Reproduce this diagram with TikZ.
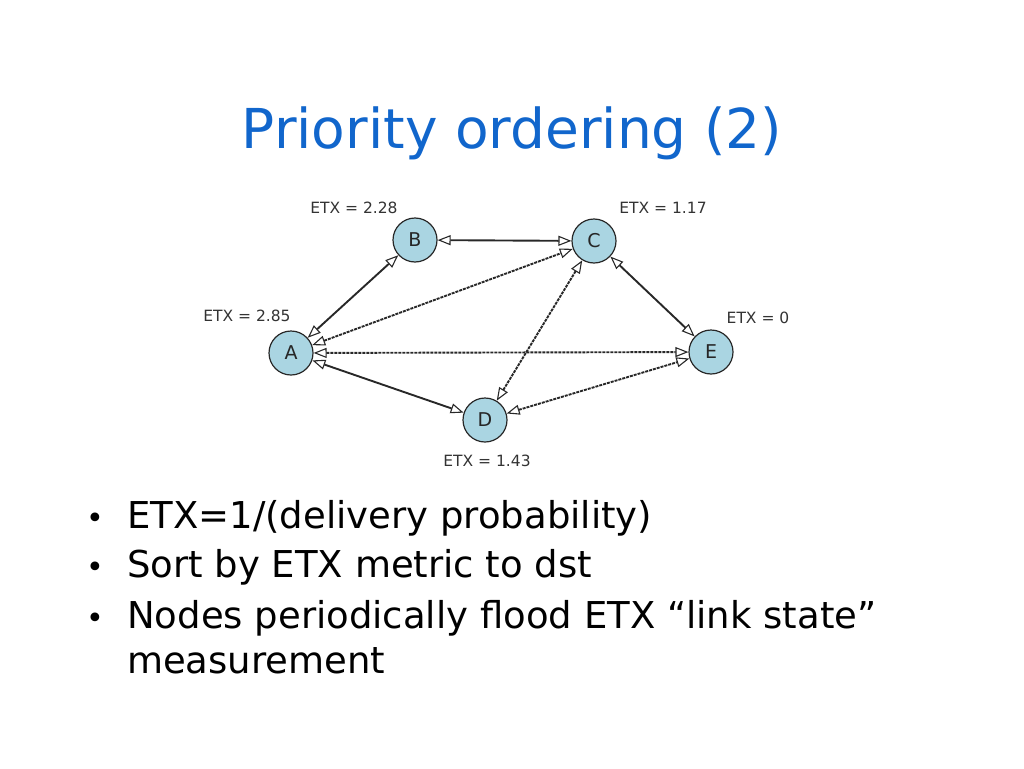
\documentclass[tikz,border=0pt]{standalone}
\usepackage{fontspec}
\setmainfont{DejaVu Sans}
\usetikzlibrary{arrows.meta}
\definecolor{titleblue}{RGB}{17,102,204}
\definecolor{nodeblue}{RGB}{170,213,226}
\definecolor{edgegray}{RGB}{40,40,40}
\begin{document}
\begin{tikzpicture}[x=1pt, y=-1pt,
  station/.style={circle, draw=edgegray, fill=nodeblue, line width=1.2pt,
    minimum size=44pt, inner sep=0pt, font=\fontsize{19}{19}\selectfont, text=black!85},
  etx/.style={font=\fontsize{15.5}{16}\selectfont, text=black!80},
  link/.style={draw=edgegray, line width=1.9pt,
    {Triangle[open,length=13pt,width=10pt,line width=1.1pt]}-{Triangle[open,length=13pt,width=10pt,line width=1.1pt]}},
  rough/.style={dash pattern=on 3pt off 1pt},
  bullet/.style={anchor=base west, font=\fontsize{37}{37}\selectfont, inner sep=0pt}]

\useasboundingbox (0,0) rectangle (1024,768);

\node[anchor=base, font=\fontsize{55}{55}\selectfont, text=titleblue] (title) at (512,148) {Priority ordering (2)};

\node[station] (A) at (291,353) {A};
\node[station] (B) at (415,240) {B};
\node[station] (C) at (594,241) {C};
\node[station] (D) at (485,420) {D};
\node[station] (E) at (711,352) {E};

\node[etx] (etxA) at (247,316) {ETX = 2.85};
\node[etx] (etxB) at (354,208) {ETX = 2.28};
\node[etx] (etxC) at (663,208) {ETX = 1.17};
\node[etx] (etxD) at (487,461) {ETX = 1.43};
\node[etx] (etxE) at (758,318) {ETX = 0};

\draw[link] (A) -- (B);
\draw[link] (B) -- (C);
\draw[link] (C) -- (E);
\draw[link] (A) -- (D);
\draw[link, rough] (A) -- (C);
\draw[link, rough] (C) -- (D);
\draw[link, rough] (A) -- (E);
\draw[link, rough] (D) -- (E);

\node[bullet, font=\fontsize{30}{30}\selectfont] (dot1) at (86,528) {•};
\node[bullet, font=\fontsize{30}{30}\selectfont] (dot2) at (86,577) {•};
\node[bullet, font=\fontsize{30}{30}\selectfont] (dot3) at (86,628) {•};
\node[bullet] (item1) at (127,528) {ETX=1/(delivery probability)};
\node[bullet] (item2) at (127,577) {Sort by ETX metric to dst};
\node[bullet] (item3) at (127,628) {Nodes periodically flood ETX “link state”};
\node[bullet] (item3b) at (127,673) {measurement};

\end{tikzpicture}
\end{document}
